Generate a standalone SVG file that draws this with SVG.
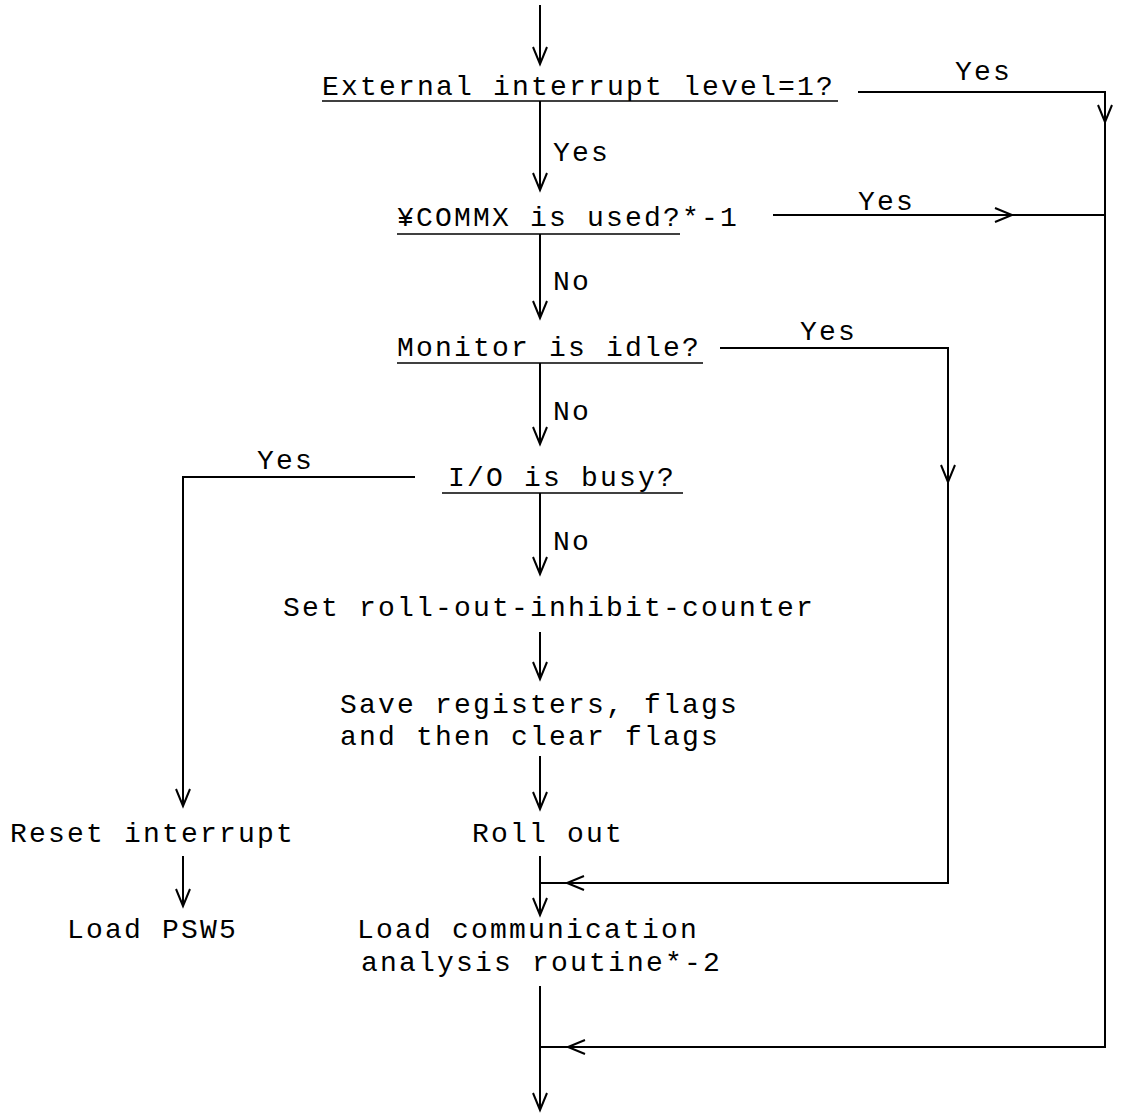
<svg xmlns="http://www.w3.org/2000/svg" width="1122" height="1113" viewBox="0 0 1122 1113">
<style>
text{font-family:"Liberation Mono","Courier New",monospace;font-size:28px;letter-spacing:2.2px;fill:#000}
.ln{fill:none;stroke:#000;stroke-width:2}
.ul{fill:none;stroke:#000;stroke-width:1.6}
</style>
<defs>
<marker id="ah" markerUnits="userSpaceOnUse" markerWidth="20" markerHeight="20" refX="0" refY="0" orient="auto" overflow="visible">
<path d="M-17,-7 L0,0 L-17,7" fill="none" stroke="#000" stroke-width="2"/>
</marker>
</defs>
<rect width="1122" height="1113" fill="#fff"/>
<g id="connectors">
<path class="ln" d="M540,5 V64" marker-end="url(#ah)"/>
<path class="ln" d="M540,101 V190" marker-end="url(#ah)"/>
<path class="ln" d="M858,92 H1105 V122" marker-end="url(#ah)"/>
<path class="ln" d="M1105,122 V1047 H540"/>
<path class="ln" d="M773,215 H1012" marker-end="url(#ah)"/>
<path class="ln" d="M1012,215 H1105"/>
<path class="ln" d="M540,234 V318" marker-end="url(#ah)"/>
<path class="ln" d="M720,348 H948 V482" marker-end="url(#ah)"/>
<path class="ln" d="M948,482 V883 H567" marker-end="url(#ah)"/>
<path class="ln" d="M567,883 H540"/>
<path class="ln" d="M540,363 V444" marker-end="url(#ah)"/>
<path class="ln" d="M415,477 H183 V806" marker-end="url(#ah)"/>
<path class="ln" d="M540,493 V574" marker-end="url(#ah)"/>
<path class="ln" d="M540,632 V679" marker-end="url(#ah)"/>
<path class="ln" d="M540,756 V809" marker-end="url(#ah)"/>
<path class="ln" d="M540,856 V915" marker-end="url(#ah)"/>
<path class="ln" d="M183,856 V906" marker-end="url(#ah)"/>
<path class="ln" d="M1105,1047 H568" marker-end="url(#ah)"/>
<path class="ln" d="M540,986 V1110" marker-end="url(#ah)"/>
</g>
<g id="labels">
<text x="955" y="80">Yes</text>
<text x="553" y="161">Yes</text>
<text x="858" y="210">Yes</text>
<text x="553" y="290">No</text>
<text x="800" y="340">Yes</text>
<text x="553" y="420">No</text>
<text x="257" y="469">Yes</text>
<text x="553" y="550">No</text>
</g>
<g id="n1"><text x="322" y="95">External interrupt level=1?</text><path class="ul" d="M322,101 H838"/></g>
<g id="n2"><text x="397" y="226">¥COMMX is used?*-1</text><path class="ul" d="M397,234 H680"/></g>
<g id="n3"><text x="397" y="356">Monitor is idle?</text><path class="ul" d="M397,363 H703"/></g>
<g id="n4"><text x="448" y="486">I/O is busy?</text><path class="ul" d="M442,493 H683"/></g>
<g id="n5"><text x="283" y="616">Set roll-out-inhibit-counter</text></g>
<g id="n6"><text x="340" y="713">Save registers, flags</text><text x="340" y="745">and then clear flags</text></g>
<g id="n7"><text x="472" y="842">Roll out</text></g>
<g id="n8"><text x="10" y="842">Reset interrupt</text></g>
<g id="n9"><text x="67" y="938">Load PSW5</text></g>
<g id="n10"><text x="357" y="938">Load communication</text><text x="361" y="971">analysis routine*-2</text></g>
</svg>
